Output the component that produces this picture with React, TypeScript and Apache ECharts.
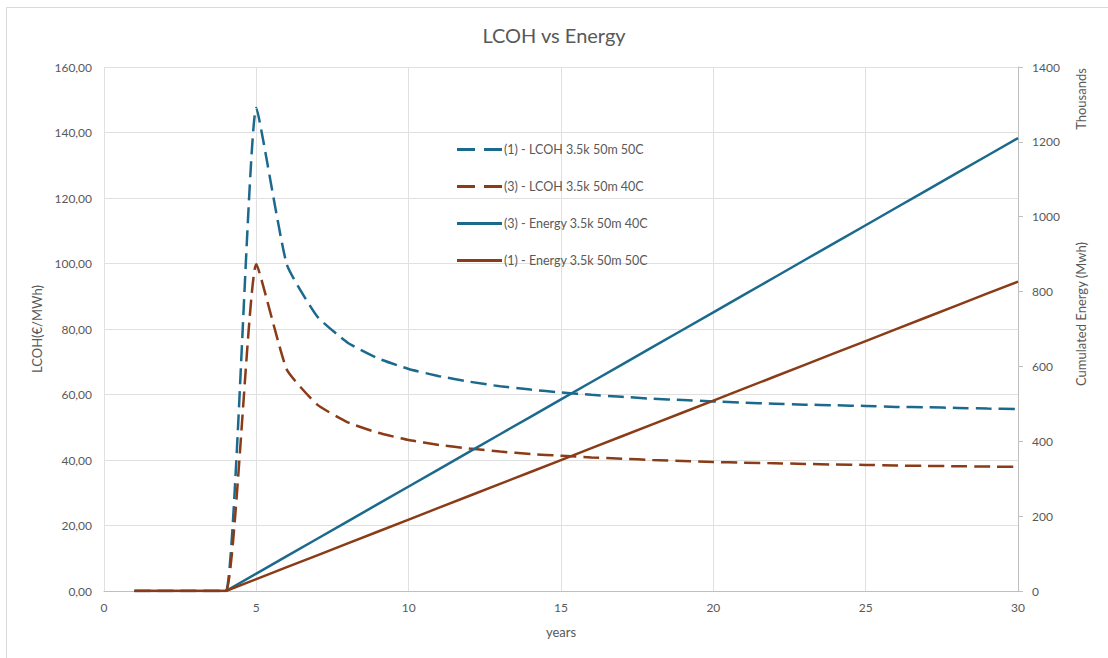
import React, { useEffect, useRef } from "react";
import * as echarts from "echarts";

const years = [1, 2, 3, 4, 5, 6, 7, 8, 9, 10, 11, 12, 13, 14, 15, 16, 17, 18, 19, 20, 21, 22, 23, 24, 25, 26, 27, 28, 29, 30];
const lcoh1 = [0, 0, 0, 0, 147.5, 99.7, 83.8, 75.8, 71.0, 67.8, 65.6, 63.9, 62.5, 61.5, 60.6, 59.9, 59.3, 58.7, 58.3, 57.9, 57.5, 57.2, 56.9, 56.7, 56.5, 56.2, 56.1, 55.9, 55.7, 55.6];
const lcoh3 = [0, 0, 0, 0, 99.8, 67.6, 56.9, 51.5, 48.3, 46.1, 44.6, 43.5, 42.6, 41.8, 41.3, 40.8, 40.4, 40.0, 39.7, 39.4, 39.2, 39.0, 38.8, 38.6, 38.5, 38.3, 38.2, 38.1, 38.0, 37.9];
const energy3 = [0, 0, 0, 0, 46.5, 93.1, 139.6, 186.2, 232.7, 279.2, 325.8, 372.3, 418.9, 465.4, 511.9, 558.5, 605.0, 651.6, 698.1, 744.6, 791.2, 837.7, 884.3, 930.8, 977.3, 1023.9, 1070.4, 1117.0, 1163.5, 1210.0];
const energy1 = [0, 0, 0, 0, 31.8, 63.6, 95.4, 127.2, 159.0, 190.8, 222.6, 254.4, 286.2, 318.0, 349.8, 381.6, 413.4, 445.2, 477.0, 508.8, 540.6, 572.4, 604.2, 636.0, 667.8, 699.6, 731.4, 763.2, 795.0, 826.8];

const seriesNames = [
  "(1) - LCOH 3.5k 50m 50C",
  "(3) - LCOH 3.5k 50m 40C",
  "(3) - Energy 3.5k 50m 40C",
  "(1) - Energy 3.5k 50m 50C",
];

const BLUE = "#1b6a8e";
const BROWN = "#8a3b17";
const TXT = "#595959";
const FONT = "Lato, 'Liberation Sans', sans-serif";

const DASH_ICON = "path://M0,0H18V3H0Z M27,0H45V3H27Z";
const SOLID_ICON = "path://M0,0H45V3H0Z";

const pairs = (vals: number[]) => years.map((y, i) => [y, vals[i]]);

export default function App() {
  const ref = useRef<HTMLDivElement>(null);
  useEffect(() => {
    if (!ref.current) return;
    const chart = echarts.init(ref.current, undefined, { renderer: "svg" });
    const dash = [16, 7];
    chart.setOption({
      animation: false,
      backgroundColor: "#ffffff",
      textStyle: { fontFamily: FONT },
      title: {
        text: "LCOH vs Energy",
        left: "center",
        top: 20,
        textStyle: { fontSize: 20, fontWeight: "normal", color: TXT, fontFamily: FONT },
      },
      graphic: [
        {
          type: "rect",
          shape: { x: 6.5, y: 7.5, width: 1200, height: 700 },
          style: { fill: "none", stroke: "#d9d9d9", lineWidth: 1 },
          silent: true,
          z: -1,
        },
        {
          type: "text",
          x: 1081,
          y: 99,
          rotation: Math.PI / 2,
          style: { text: "Thousands", fill: TXT, fontSize: 13, fontFamily: FONT, align: "center", verticalAlign: "middle" },
        },
        {
          type: "text",
          x: 1081,
          y: 314,
          rotation: Math.PI / 2,
          style: { text: "Cumulated Energy (Mwh)", fill: TXT, fontSize: 13, fontFamily: FONT, align: "center", verticalAlign: "middle" },
        },
      ],
      legend: {
        orient: "vertical",
        left: 452,
        top: 138,
        itemWidth: 45,
        itemHeight: 3,
        itemGap: 24,
        textStyle: { fontSize: 12.5, color: TXT, fontFamily: FONT, padding: [0, 0, 0, -3] },
        data: [
          { name: seriesNames[0], icon: DASH_ICON, itemStyle: { color: BLUE } },
          { name: seriesNames[1], icon: DASH_ICON, itemStyle: { color: BROWN } },
          { name: seriesNames[2], icon: SOLID_ICON, itemStyle: { color: BLUE } },
          { name: seriesNames[3], icon: SOLID_ICON, itemStyle: { color: BROWN } },
        ],
      },
      grid: { left: 104, right: 90, top: 67, bottom: 67 },
      xAxis: {
        type: "value",
        min: 0,
        max: 30,
        interval: 5,
        name: "years",
        nameLocation: "middle",
        nameGap: 34,
        nameTextStyle: { fontSize: 13, color: TXT, fontFamily: FONT },
        axisLine: { show: true, lineStyle: { color: "#bfbfbf", width: 1 } },
        axisTick: { show: false },
        axisLabel: { color: TXT, fontSize: 12, margin: 10, fontFamily: FONT },
        splitLine: { show: true, lineStyle: { color: "#e0e0e0", width: 1 } },
      },
      yAxis: [
        {
          type: "value",
          min: 0,
          max: 160,
          interval: 20,
          name: "LCOH(€/MWh)",
          nameLocation: "middle",
          nameGap: 60,
          nameRotate: 90,
          nameTextStyle: { fontSize: 13, color: TXT, fontFamily: FONT },
          axisLine: { show: false },
          axisTick: { show: false },
          axisLabel: {
            color: TXT,
            fontSize: 12,
            margin: 12,
            fontFamily: FONT,
            formatter: (v: number) => v.toFixed(2).replace(".", ","),
          },
          splitLine: { show: true, lineStyle: { color: "#e0e0e0", width: 1 } },
        },
        {
          type: "value",
          min: 0,
          max: 1400,
          interval: 200,
          position: "right",
          axisLine: { show: true, lineStyle: { color: "#bfbfbf", width: 1 } },
          axisTick: { show: true, length: 5, lineStyle: { color: "#bfbfbf" } },
          axisLabel: { color: TXT, fontSize: 12, margin: 14, fontFamily: FONT, formatter: (v: number) => String(v) },
          splitLine: { show: false },
        },
      ],
      series: [
        {
          name: seriesNames[0],
          type: "line",
          yAxisIndex: 0,
          data: pairs(lcoh1),
          symbol: "none",
          smooth: 0.15,
          lineStyle: { color: BLUE, width: 2.5, type: dash },
          itemStyle: { color: BLUE },
        },
        {
          name: seriesNames[1],
          type: "line",
          yAxisIndex: 0,
          data: pairs(lcoh3),
          symbol: "none",
          smooth: 0.15,
          lineStyle: { color: BROWN, width: 2.5, type: dash },
          itemStyle: { color: BROWN },
        },
        {
          name: seriesNames[2],
          type: "line",
          yAxisIndex: 1,
          data: pairs(energy3),
          symbol: "none",
          lineStyle: { color: BLUE, width: 2.5 },
          itemStyle: { color: BLUE },
        },
        {
          name: seriesNames[3],
          type: "line",
          yAxisIndex: 1,
          data: pairs(energy1),
          symbol: "none",
          lineStyle: { color: BROWN, width: 2.5 },
          itemStyle: { color: BROWN },
        },
      ],
    });
    return () => chart.dispose();
  }, []);
  return (
    <div
      ref={ref}
      style={{ position: "fixed", left: 0, top: 0, width: 1108, height: 658, background: "#fff" }}
    />
  );
}
